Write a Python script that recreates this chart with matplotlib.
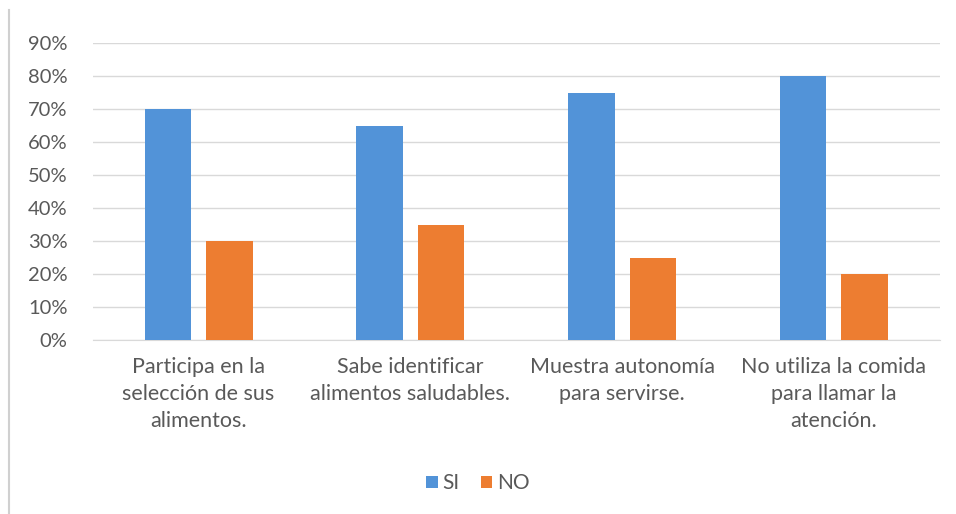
import numpy as np
import matplotlib.pyplot as plt
from matplotlib.lines import Line2D

# datos
categorias = ['Participa en la\nselección de sus\nalimentos.',
              'Sabe identificar\nalimentos saludables.',
              'Muestra autonomía\npara servirse.',
              'No utiliza la comida\npara llamar la\natención.']
si = [0.70, 0.65, 0.75, 0.80]
no = [0.30, 0.35, 0.25, 0.20]
ticks_y = [0, 0.1, 0.2, 0.3, 0.4, 0.5, 0.6, 0.7, 0.8, 0.9]

azul = '#5293D8'
naranja = '#ED7D31'
gris = '#595959'

plt.rcParams['font.family'] = ['Lato', 'DejaVu Sans']

fig = plt.figure(figsize=(9.56, 5.14), dpi=100)
ax = fig.add_axes([0.097, 0.3385, 0.886, 0.5775])

x = np.arange(len(categorias))
ancho = 0.22
ax.bar(x - 0.145, si, ancho, color=azul, label='SI', zorder=3)
ax.bar(x + 0.145, no, ancho, color=naranja, label='NO', zorder=3)

ax.set_xlim(-0.5, 3.5)
ax.set_ylim(0, 0.9)
ax.set_yticks(ticks_y)
ax.set_yticklabels([f'{int(round(t * 100))}%' for t in ticks_y], fontsize=14.5, color=gris)
ax.set_xticks(x)
ax.set_xticklabels(categorias, fontsize=15.5, color=gris, linespacing=1.45)
ax.tick_params(axis='both', length=0)
ax.tick_params(axis='y', pad=18)
ax.tick_params(axis='x', pad=12)

ax.grid(axis='y', color='#D9D9D9', linewidth=1, zorder=0)
for s in ['top', 'right', 'left']:
    ax.spines[s].set_visible(False)
ax.spines['bottom'].set_color('#D9D9D9')

# borde izquierdo del grafico
fig.add_artist(Line2D([0.009, 0.009], [0.0, 0.98], color='#D0D0D0', linewidth=1.5))

fig.legend(loc='center', bbox_to_anchor=(0.5, 0.06), ncol=2, frameon=False,
           fontsize=15, labelcolor=gris, handlelength=0.55, handleheight=0.55,
           handletextpad=0.25, columnspacing=1.0)

plt.savefig('out.png', dpi=100)
